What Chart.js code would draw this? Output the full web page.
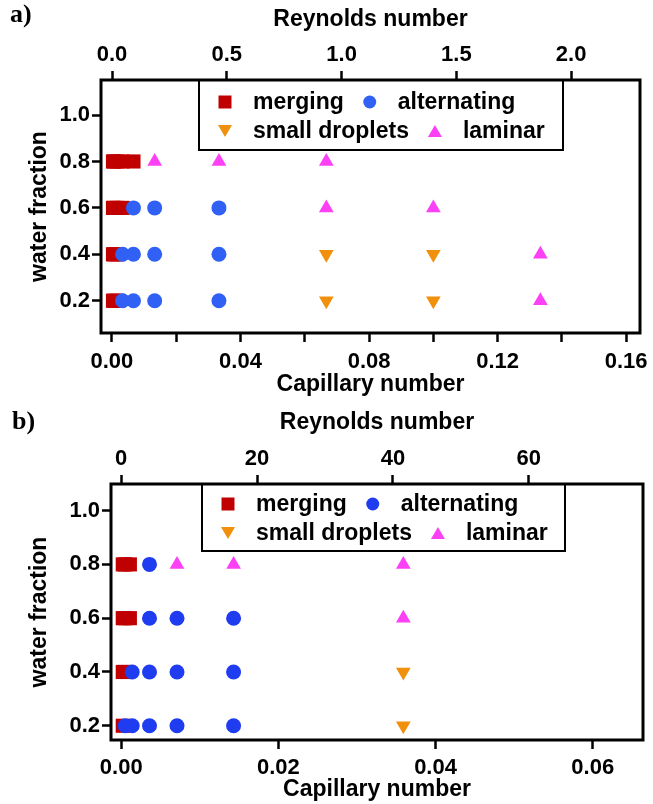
<!DOCTYPE html>
<html>
<head>
<meta charset="utf-8">
<script src="https://cdn.jsdelivr.net/npm/chart.js@4.4.0/dist/chart.umd.min.js"></script>
<style>
    html, body { margin: 0; padding: 0; background: #fff; }
    #wrap { position: relative; width: 653px; height: 804px; }
    .panel { position: absolute; left: 0; width: 653px; }
</style>
</head>
<body>
<div id="wrap">
    <div class="panel" style="top:0;height:400px"><canvas id="chartA"></canvas></div>
    <div class="panel" style="top:400px;height:404px"><canvas id="chartB"></canvas></div>
</div>
<script>
// --- DATOS PANEL a) ---
const aMergingCa = [0.00033, 0.00067, 0.0017, 0.0033, 0.0067, 0.00033, 0.00067, 0.0017, 0.0033, 0.00033, 0.00067, 0.0017, 0.00033, 0.00067, 0.0017];
const aMergingWf = [0.8, 0.8, 0.8, 0.8, 0.8, 0.6, 0.6, 0.6, 0.6, 0.4, 0.4, 0.4, 0.2, 0.2, 0.2];
const aAltCa = [0.0067, 0.0133, 0.0333, 0.0033, 0.0067, 0.0133, 0.0333, 0.0033, 0.0067, 0.0133, 0.0333];
const aAltWf = [0.6, 0.6, 0.6, 0.4, 0.4, 0.4, 0.4, 0.2, 0.2, 0.2, 0.2];
const aSmallCa = [0.0667, 0.1, 0.0667, 0.1];
const aSmallWf = [0.4, 0.4, 0.2, 0.2];
const aLamCa = [0.0133, 0.0333, 0.0667, 0.0667, 0.1, 0.1333, 0.1333];
const aLamWf = [0.8, 0.8, 0.8, 0.6, 0.6, 0.4, 0.2];

// --- DATOS PANEL b) ---
const bMergingCa = [0.0002, 0.0005, 0.0011, 0.0002, 0.0005, 0.0011, 0.0002, 0.0005, 0.0002];
const bMergingWf = [0.8, 0.8, 0.8, 0.6, 0.6, 0.6, 0.4, 0.4, 0.2];
const bAltCa = [0.0036, 0.0036, 0.0071, 0.0143, 0.0014, 0.0036, 0.0071, 0.0143, 0.0005, 0.0014, 0.0036, 0.0071, 0.0143];
const bAltWf = [0.8, 0.6, 0.6, 0.6, 0.4, 0.4, 0.4, 0.4, 0.2, 0.2, 0.2, 0.2, 0.2];
const bSmallCa = [0.0359, 0.0359];
const bSmallWf = [0.4, 0.2];
const bLamCa = [0.0071, 0.0143, 0.0359, 0.0359];
const bLamWf = [0.8, 0.8, 0.8, 0.6];

// --- EJES / TICKS ---
const wfTicks = [0.2, 0.4, 0.6, 0.8, 1.0];
const caTicksA = [0, 0.04, 0.08, 0.12, 0.16];
const caMinorA = [0.02, 0.06, 0.10, 0.14];
const reTicksA = [0, 0.5, 1.0, 1.5, 2.0];
const caTicksB = [0, 0.02, 0.04, 0.06];
const reTicksB = [0, 20, 40, 60];

const etiquetas = ['merging', 'alternating', 'small droplets', 'laminar'];
const FUENTE = '"Liberation Sans", Arial, sans-serif';

function puntos(xs, ys) {
    return xs.map((x, i) => ({ x: x, y: ys[i] }));
}

function crearDatasets(merging, alt, small, lam, azul) {
    return [
        { label: etiquetas[0], data: merging, pointStyle: 'rect', pointRadius: 10, backgroundColor: '#c00000', order: 2 },
        { label: etiquetas[1], data: alt, pointStyle: 'circle', pointRadius: 7.5, backgroundColor: azul, order: 1 },
        { label: etiquetas[2], data: small, pointStyle: 'triangle', pointRotation: 180, pointRadius: 8.5, backgroundColor: '#f0900c', order: 0 },
        { label: etiquetas[3], data: lam, pointStyle: 'triangle', pointRadius: 8.5, backgroundColor: '#fb40f5', order: 0 }
    ].map(d => Object.assign(d, { pointBorderWidth: 0, borderWidth: 0, showLine: false }));
}

// --- PLUGINS ---
const pluginMarco = {
    id: 'marco',
    afterDraw(chart) {
        const { ctx, chartArea: a } = chart;
        ctx.save();
        ctx.lineWidth = 3;
        ctx.strokeStyle = '#000';
        ctx.strokeRect(a.left, a.top, a.right - a.left, a.bottom - a.top);
        ctx.restore();
    }
};

function dibujarSimbolo(ctx, tipo, x, y, color) {
    ctx.fillStyle = color;
    ctx.beginPath();
    if (tipo === 'rect') ctx.rect(x - 6.5, y - 6.5, 13, 13);
    else if (tipo === 'circle') ctx.arc(x, y, 6.5, 0, Math.PI * 2);
    else if (tipo === 'down') { ctx.moveTo(x - 7, y - 6); ctx.lineTo(x + 7, y - 6); ctx.lineTo(x, y + 6); }
    else { ctx.moveTo(x - 7, y + 6); ctx.lineTo(x + 7, y + 6); ctx.lineTo(x, y - 6); }
    ctx.closePath();
    ctx.fill();
}

const pluginLeyenda = {
    id: 'leyenda',
    afterDatasetsDraw(chart, args, opts) {
        const ctx = chart.ctx;
        const top = chart.chartArea.top;
        ctx.save();
        ctx.fillStyle = '#fff';
        ctx.fillRect(opts.x, top, opts.w, opts.h);
        ctx.lineWidth = 2;
        ctx.strokeStyle = '#000';
        ctx.strokeRect(opts.x, top, opts.w, opts.h);
        ctx.font = 'bold 23px ' + FUENTE;
        ctx.textBaseline = 'middle';
        ctx.textAlign = 'left';
        const filas = [[0, 1], [2, 3]];
        filas.forEach((fila, i) => {
            const y = top + opts.filaY[i];
            let x = opts.x + 26;
            fila.forEach(idx => {
                const ds = chart.data.datasets[idx];
                const tipo = ds.pointStyle === 'triangle' ? (ds.pointRotation ? 'down' : 'up') : ds.pointStyle;
                dibujarSimbolo(ctx, tipo, x, y, ds.backgroundColor);
                ctx.fillStyle = '#000';
                const tx = x + 28;
                ctx.fillText(ds.label, tx, y + 1);
                x = tx + ctx.measureText(ds.label).width + 26;
            });
        });
        ctx.restore();
    }
};

const pluginLetra = {
    id: 'letra',
    afterDraw(chart, args, opts) {
        const ctx = chart.ctx;
        ctx.save();
        ctx.font = 'bold 26px "Liberation Serif", "Times New Roman", serif';
        ctx.fillStyle = '#000';
        ctx.textBaseline = 'middle';
        ctx.fillText(opts.text, opts.x, opts.y);
        ctx.restore();
    }
};

function fijarTicks(lista) {
    return s => { s.ticks = lista.slice().sort((p, q) => p - q).map(v => ({ value: v })); };
}
function fijarTam(prop, valor) {
    return s => {
        s[prop] = valor;
        s.paddingLeft = 0; s.paddingRight = 0; s.paddingTop = 0; s.paddingBottom = 0;
    };
}
function esMayor(lista, v) {
    return lista.some(t => Math.abs(t - v) < 1e-9);
}

function crearOpciones(cfg) {
    const fTick = { family: FUENTE, size: 22, weight: 'bold' };
    const fTitulo = { family: FUENTE, size: 23, weight: 'bold' };
    const grid = { display: true, drawOnChartArea: false, drawTicks: true, tickLength: 9, tickWidth: 2.5, tickColor: '#000' };
    return {
        responsive: true,
        maintainAspectRatio: false,
        animation: false,
        layout: { padding: { left: 0, right: cfg.padRight, top: 0, bottom: 0 } },
        plugins: {
            legend: { display: false },
            tooltip: { enabled: false },
            leyenda: cfg.leyenda,
            letra: cfg.letra
        },
        scales: {
            x: {
                type: 'linear', position: 'bottom', min: cfg.caMin, max: cfg.caMax,
                afterBuildTicks: fijarTicks(cfg.caTicks.concat(cfg.caMinor)),
                afterFit: fijarTam('height', cfg.altoAbajo),
                border: { display: false },
                grid: grid,
                ticks: {
                    autoSkip: false, maxRotation: 0, color: '#000', font: fTick, padding: cfg.padAbajo,
                    callback: v => esMayor(cfg.caTicks, v) ? v.toFixed(2) : ''
                },
                title: { display: true, text: 'Capillary number', color: '#000', font: fTitulo, padding: { top: 0, bottom: cfg.titAbajo } }
            },
            x2: {
                type: 'linear', position: 'top', min: cfg.reMin, max: cfg.reMax,
                afterBuildTicks: fijarTicks(cfg.reTicks),
                afterFit: fijarTam('height', cfg.altoArriba),
                border: { display: false },
                grid: grid,
                ticks: {
                    autoSkip: false, maxRotation: 0, color: '#000', font: fTick, padding: 3,
                    callback: v => cfg.reDecimales ? v.toFixed(1) : String(v)
                },
                title: { display: true, text: 'Reynolds number', color: '#000', font: fTitulo, padding: { top: cfg.titArriba, bottom: 0 } }
            },
            y: {
                type: 'linear', position: 'left', min: cfg.wfMin, max: cfg.wfMax,
                afterBuildTicks: fijarTicks(wfTicks),
                afterFit: fijarTam('width', cfg.anchoY),
                border: { display: false },
                grid: grid,
                ticks: { autoSkip: false, color: '#000', font: fTick, padding: 2, callback: v => v.toFixed(1) },
                title: { display: true, text: 'water fraction', color: '#000', font: fTitulo, padding: { top: 26, bottom: 0 } }
            }
        }
    };
}

// --- PANEL a) ---
new Chart(document.getElementById('chartA').getContext('2d'), {
    type: 'scatter',
    data: {
        datasets: crearDatasets(puntos(aMergingCa, aMergingWf), puntos(aAltCa, aAltWf),
            puntos(aSmallCa, aSmallWf), puntos(aLamCa, aLamWf), '#3060f4')
    },
    options: crearOpciones({
        padRight: 13, anchoY: 101, altoAbajo: 67, altoArriba: 80,
        caMin: -0.0034, caMax: 0.1643, reMin: -0.048, reMax: 2.30,
        wfMin: 0.061, wfMax: 1.151,
        caTicks: caTicksA, caMinor: caMinorA, reTicks: reTicksA, reDecimales: true,
        padAbajo: 7, titAbajo: 2, titArriba: 6,
        leyenda: { x: 199, w: 364, h: 70, filaY: [22, 51] },
        letra: { text: 'a)', x: 10, y: 15 }
    }),
    plugins: [pluginLeyenda, pluginMarco, pluginLetra]
});

// --- PANEL b) ---
new Chart(document.getElementById('chartB').getContext('2d'), {
    type: 'scatter',
    data: {
        datasets: crearDatasets(puntos(bMergingCa, bMergingWf), puntos(bAltCa, bAltWf),
            puntos(bSmallCa, bSmallWf), puntos(bLamCa, bLamWf), '#1f3cf0')
    },
    options: crearOpciones({
        padRight: 5, anchoY: 111, altoAbajo: 64, altoArriba: 84,
        caMin: -0.0013, caMax: 0.0664, reMin: -1.5, reMax: 76.8,
        wfMin: 0.147, wfMax: 1.099,
        caTicks: caTicksB, caMinor: [], reTicks: reTicksB, reDecimales: false,
        padAbajo: 6, titAbajo: 1, titArriba: 9,
        leyenda: { x: 202, w: 363, h: 67, filaY: [20, 49] },
        letra: { text: 'b)', x: 12, y: 22 }
    }),
    plugins: [pluginLeyenda, pluginMarco, pluginLetra]
});
</script>
</body>
</html>
